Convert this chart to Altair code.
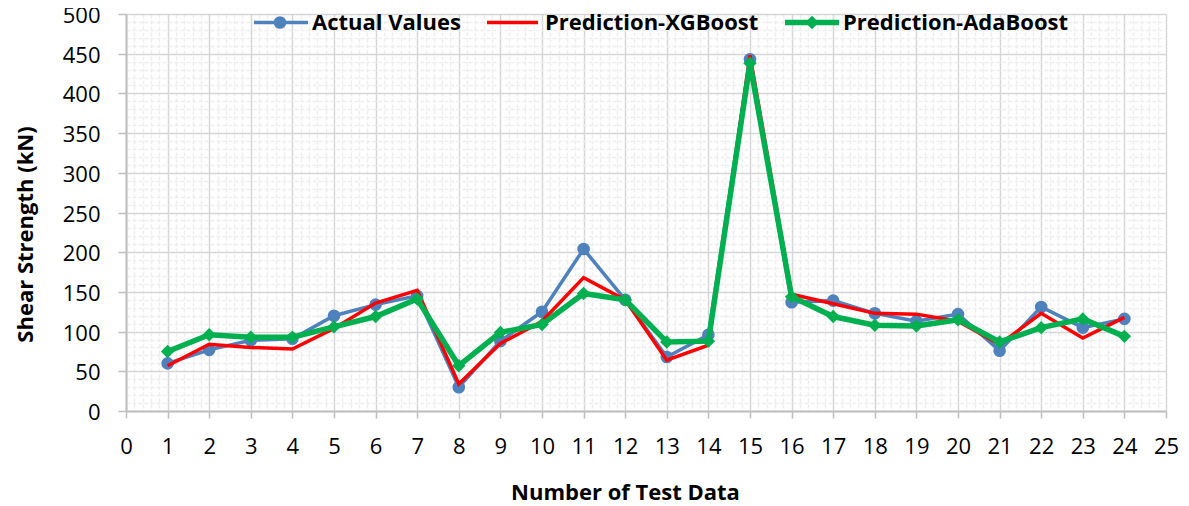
import altair as alt
import pandas as pd

# ---- data ----
test_no = list(range(1, 25))
actual = [60, 77, 89, 91, 120, 134, 145, 30, 88, 125, 204, 140,
          68, 96, 443, 137, 139, 123, 113, 122, 76, 131, 105, 116]
xgboost = [57, 84, 80, 78, 104, 136, 152, 34, 85, 113, 168, 140,
           64, 83, 448, 147, 135, 123, 122, 113, 84, 123, 92, 118]
adaboost = [75, 96, 93, 93, 106, 119, 141, 57, 99, 109, 148, 140,
            87, 88, 438, 144, 119, 108, 107, 115, 87, 105, 116, 94]

series_names = ["Actual Values", "Prediction-XGBoost", "Prediction-AdaBoost"]
colors = ["#4F81BD", "#FF0000", "#00B050"]

y_ticks = list(range(0, 501, 10))                 # major every 50, minor every 10
x_ticks = [round(i * 0.2, 1) for i in range(126)]  # major every 1, minor every 0.2

FONT = "Open Sans"
FS = 22

df = pd.DataFrame({"n": test_no, "actual": actual, "xgb": xgboost, "ada": adaboost})

x_major = "abs(datum.value - round(datum.value)) < 0.01"
y_major = "datum.value % 50 === 0"

x_axis = alt.Axis(
    values=x_ticks,
    title="Number of Test Data",
    titleFont=FONT, titleFontSize=FS, titleFontWeight="bold", titleColor="#000",
    titleX=499, titleY=81, titleBaseline="middle", titleAlign="center",
    labelFont=FONT, labelFontSize=FS, labelColor="#000",
    labelExpr=f"{x_major} ? format(datum.value, 'd') : ''",
    labelOverlap=False, labelFlush=False, labelPadding=18,
    tickSize=7, tickColor="#BFBFBF", tickWidth=1.5,
    tickOpacity={"condition": {"test": x_major, "value": 1}, "value": 0},
    domainColor="#BFBFBF", domainWidth=2,
    grid=True,
    gridColor={"condition": {"test": x_major, "value": "#D6D6D6"}, "value": "#EEEEEE"},
    gridDash={"condition": {"test": x_major, "value": []}, "value": [4, 2]},
    gridWidth=1.5,
)

y_axis = alt.Axis(
    values=y_ticks,
    title="Shear Strength (kN)",
    titleFont=FONT, titleFontSize=FS, titleFontWeight="bold", titleColor="#000",
    titleX=-101, titleY=220, titleAngle=270, titleBaseline="middle", titleAlign="center",
    labelFont=FONT, labelFontSize=FS, labelColor="#000",
    labelExpr=f"{y_major} ? format(datum.value, 'd') : ''",
    labelOverlap=False, labelFlush=False, labelPadding=18, labelOffset=1.5,
    tickSize=8, tickColor="#BFBFBF", tickWidth=1.5,
    tickOpacity={"condition": {"test": y_major, "value": 1}, "value": 0},
    domainColor="#BFBFBF", domainWidth=2,
    grid=True,
    gridColor={"condition": {"test": y_major, "value": "#D6D6D6"}, "value": "#EEEEEE"},
    gridDash={"condition": {"test": y_major, "value": []}, "value": [4, 2]},
    gridWidth=1.5,
)

x_scale = alt.Scale(domain=[0, 25], nice=False, zero=False)
y_scale = alt.Scale(domain=[0, 500], nice=False)


def xy(field):
    return dict(
        x=alt.X("n:Q", scale=x_scale, axis=x_axis),
        y=alt.Y(f"{field}:Q", scale=y_scale, axis=y_axis),
    )


base = alt.Chart(df)

blue_line = base.mark_line(color=colors[0], strokeWidth=3.5).encode(**xy("actual"))
blue_pts = base.mark_point(filled=True, shape="circle", size=160, opacity=1,
                           color=colors[0]).encode(**xy("actual"))
red_line = base.mark_line(color=colors[1], strokeWidth=3.5).encode(**xy("xgb"))
green_line = base.mark_line(color=colors[2], strokeWidth=5.5).encode(**xy("ada"))
green_pts = base.mark_point(filled=True, shape="diamond", size=180, opacity=1,
                            color=colors[2]).encode(**xy("ada"))

# ---- custom legend (line + marker + label), inside the top of the plot ----
LEG_Y = 8.5
leg_line_x = [(128, 182), (361, 412), (659, 713)]
leg_mark_x = [154, None, 686]
leg_text_x = [186, 419, 717]
leg_widths = [3.5, 3.5, 5.5]
leg_shapes = ["circle", None, "diamond"]
leg_sizes = [160, None, 180]

legend_layers = []
for i, name in enumerate(series_names):
    ld = alt.Chart(pd.DataFrame({"label": [name]}))
    legend_layers.append(
        ld.mark_rule(color=colors[i], strokeWidth=leg_widths[i]).encode(
            x=alt.value(leg_line_x[i][0]), x2=alt.value(leg_line_x[i][1]), y=alt.value(LEG_Y)
        )
    )
    if leg_shapes[i]:
        legend_layers.append(
            ld.mark_point(filled=True, shape=leg_shapes[i], size=leg_sizes[i], opacity=1,
                          color=colors[i]).encode(x=alt.value(leg_mark_x[i]), y=alt.value(LEG_Y))
        )
    legend_layers.append(
        ld.mark_text(align="left", baseline="middle", font=FONT, fontSize=FS,
                     fontWeight="bold", color="#000").encode(
            x=alt.value(leg_text_x[i]), y=alt.value(LEG_Y), text="label:N"
        )
    )

chart = alt.layer(
    blue_line, blue_pts, red_line, green_line, green_pts, *legend_layers
).properties(
    width=1040,
    height=397,
    padding={"left": 118, "top": 6, "right": 15, "bottom": 91},
    autosize=alt.AutoSizeParams(type="none"),
    background="white",
).configure_view(stroke=None)

chart.save("out.html", embed_options={"renderer": "svg", "actions": False})
